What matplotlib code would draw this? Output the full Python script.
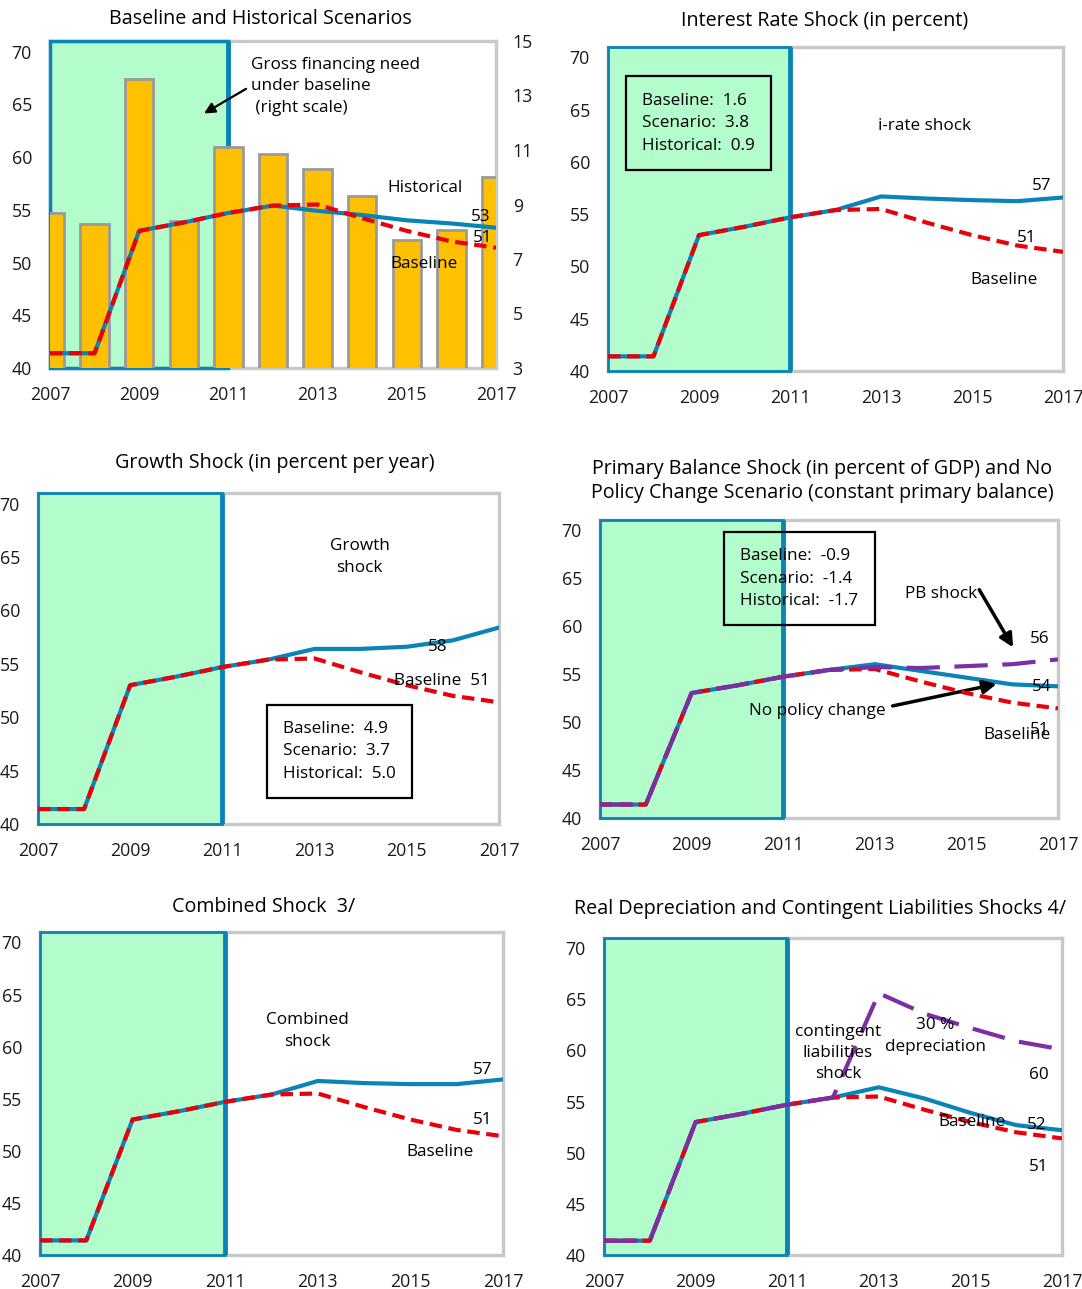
import matplotlib
matplotlib.use("Agg")
import matplotlib.pyplot as plt
from matplotlib.patches import Rectangle

plt.rcParams['font.family'] = ['Open Sans', 'DejaVu Sans']

# data
years = list(range(2007, 2018))
baseline = [41.4, 41.4, 53.0, 53.8, 54.7, 55.4, 55.5, 54.2, 53.0, 52.0, 51.4]
historical = [41.4, 41.4, 53.0, 53.8, 54.7, 55.4, 54.9, 54.5, 54.0, 53.7, 53.3]
gross_financing = [8.7, 8.3, 13.6, 8.4, 11.1, 10.85, 10.3, 9.3, 7.7, 8.05, 10.0]

past = baseline[:6]
irate_shock = past + [56.7, 56.5, 56.35, 56.25, 56.6]
growth_shock = past + [56.4, 56.4, 56.6, 57.2, 58.4]
no_policy_change = past + [56.0, 55.3, 54.6, 53.9, 53.7]
pb_shock = past + [55.7, 55.6, 55.8, 56.0, 56.5]
combined_shock = past + [56.7, 56.5, 56.4, 56.4, 56.85]
contingent_shock = past + [56.4, 55.3, 53.9, 52.7, 52.2]
depreciation = past + [65.6, 63.6, 62.2, 60.9, 60.1]

xticks = [2007, 2009, 2011, 2013, 2015, 2017]
yticks = [40, 45, 50, 55, 60, 65, 70]

BLUE = '#0a84b6'
RED = '#e8000b'
PURPLE = '#7b2fa3'
GREEN = '#b3fdcc'
FRAME = '#c8c8c8'
FS = 12.3
TICK_FS = 12.8

W, H = 1082, 1289
fig = plt.figure(figsize=(W / 100, H / 100), dpi=100)


def box(x0, y0, x1, y1):
    # pixel box -> figure fraction
    return [x0 / W, 1 - y1 / H, (x1 - x0) / W, (y1 - y0) / H]


def frame(ax):
    ax.tick_params(length=0, labelsize=TICK_FS, colors='#1a1a1a')
    ax.tick_params(axis='x', pad=13)
    for s in ax.spines.values():
        s.set_color(FRAME)
        s.set_linewidth(2.4)
        s.set_zorder(1)


def style(ax):
    ax.set_xlim(2007, 2017)
    ax.set_ylim(40, 71)
    ax.set_xticks(xticks)
    ax.set_yticks(yticks)
    frame(ax)
    ax.tick_params(axis='y', pad=13)
    ax.axvspan(2007, 2011, color=GREEN, zorder=0.5, lw=0)
    ax.add_patch(Rectangle((2007, 40), 4, 31, fill=False, ec=BLUE, lw=2,
                           zorder=1.5, clip_on=False))
    ax.plot([2011, 2011], [40, 71], color=BLUE, lw=3.5, zorder=1.6,
            solid_capstyle='butt')


def base_line(ax):
    ax.plot(years, baseline, color=RED, lw=3, ls=(0, (3, 1.6)), zorder=4)


def title(x, y, s):
    fig.text(x / W, 1 - y / H, s, ha='center', va='center', fontsize=14.2,
             linespacing=1.3)


def label(ax, x, y, s, ha='center'):
    ax.text(x, y, s, ha=ha, va='center', fontsize=FS, zorder=6, linespacing=1.45)


def stats(ax, x, y, s):
    ax.text(x, y, s, ha='left', va='center', fontsize=FS, zorder=6,
            linespacing=1.55,
            bbox=dict(boxstyle='square,pad=0.95', fc='none', ec='black', lw=1.6))


# --- panel 1: baseline and historical
ax = fig.add_axes(box(50, 41, 496, 368))
ax.set_xlim(2007, 2017)
ax.set_ylim(3, 15)
ax.axvspan(2007, 2011, color=GREEN, zorder=0.5, lw=0)
ax.add_patch(Rectangle((2007, 3), 4, 12, fill=False, ec=BLUE, lw=2.5,
                       zorder=1.5, clip_on=False))
ax.plot([2011, 2011], [3, 15], color=BLUE, lw=3.5, zorder=1.6, solid_capstyle='butt')
ax.bar(years, gross_financing, width=0.64, color='#ffc000', edgecolor='#9a9a9a',
       lw=2, zorder=2)
ax.set_xticks(xticks)
frame(ax)
ax2 = ax.twinx()
ax.yaxis.tick_right()
ax.set_yticks([3, 5, 7, 9, 11, 13, 15])
ax.tick_params(axis='y', pad=12)
ax2.yaxis.tick_left()
ax2.set_ylim(40, 71)
ax2.set_yticks(yticks)
ax2.tick_params(length=0, labelsize=TICK_FS, colors='#1a1a1a', pad=13)
for s in ax2.spines.values():
    s.set_visible(False)
ax2.plot(years, historical, color=BLUE, lw=3, zorder=3)
base_line(ax2)
label(ax2, 2011.5, 66.7, "Gross financing need\nunder baseline\n (right scale)", ha='left')
ax2.annotate("", xy=(2010.4, 64.0), xytext=(2011.45, 66.6),
             arrowprops=dict(arrowstyle='-|>', color='black', lw=1.6, mutation_scale=16))
label(ax2, 2015.4, 57.1, "Historical")
label(ax2, 2016.66, 54.3, "53")
label(ax2, 2016.69, 52.3, "51")
label(ax2, 2015.39, 49.9, "Baseline")
title(260, 19, "Baseline and Historical Scenarios")

# --- panel 2: interest rate shock
ax = fig.add_axes(box(608, 47, 1063, 371))
style(ax)
ax.plot(years, irate_shock, color=BLUE, lw=3, zorder=3)
base_line(ax)
stats(ax, 2007.75, 63.7, "Baseline:  1.6\nScenario:  3.8\nHistorical:  0.9")
label(ax, 2013.95, 63.4, "i-rate shock")
label(ax, 2016.54, 57.7, "57")
label(ax, 2016.2, 52.75, "51")
label(ax, 2015.7, 48.7, "Baseline")
title(825, 21, "Interest Rate Shock (in percent)")

# --- panel 3: growth shock
ax = fig.add_axes(box(38, 493, 499, 824))
style(ax)
ax.plot(years, growth_shock, color=BLUE, lw=3, zorder=3)
base_line(ax)
label(ax, 2013.98, 65.0, "Growth\nshock")
label(ax, 2015.68, 56.55, "58")
label(ax, 2014.72, 53.36, "Baseline  51", ha='left')
stats(ax, 2012.31, 46.8, "Baseline:  4.9\nScenario:  3.7\nHistorical:  5.0")
title(275, 463, "Growth Shock (in percent per year)")

# --- panel 4: primary balance shock and no policy change
ax = fig.add_axes(box(600, 520, 1058, 818))
style(ax)
ax.plot(years, no_policy_change, color=BLUE, lw=3, zorder=3)
base_line(ax)
ax.plot(years, pb_shock, color=PURPLE, lw=3, ls=(0, (8, 3.5)), zorder=5)
stats(ax, 2010.06, 64.9, "Baseline:  -0.9\nScenario:  -1.4\nHistorical:  -1.7")
label(ax, 2014.45, 63.3, "PB shock")
ax.annotate("", xy=(2016.05, 57.5), xytext=(2015.25, 64.0),
            arrowprops=dict(arrowstyle='-|>', color='black', lw=2.5, mutation_scale=20))
label(ax, 2016.6, 58.6, "56")
label(ax, 2016.65, 53.6, "54")
label(ax, 2011.74, 51.15, "No policy change")
ax.annotate("", xy=(2015.72, 54.0), xytext=(2013.33, 51.6),
            arrowprops=dict(arrowstyle='-|>', color='black', lw=2.5, mutation_scale=20))
label(ax, 2016.6, 49.2, "51")
label(ax, 2016.1, 48.65, "Baseline")
title(822, 481, "Primary Balance Shock (in percent of GDP) and No\n"
      "Policy Change Scenario (constant primary balance)")

# --- panel 5: combined shock
ax = fig.add_axes(box(40, 932, 503, 1255))
style(ax)
ax.plot(years, combined_shock, color=BLUE, lw=3, zorder=3)
base_line(ax)
label(ax, 2012.77, 61.5, "Combined\nshock")
label(ax, 2016.57, 57.8, "57")
label(ax, 2016.57, 53.0, "51")
label(ax, 2015.64, 49.9, "Baseline")
title(264, 907, "Combined Shock  3/")

# --- panel 6: real depreciation and contingent liabilities
ax = fig.add_axes(box(604, 938, 1062, 1255))
style(ax)
ax.plot(years, contingent_shock, color=BLUE, lw=3, zorder=3)
base_line(ax)
ax.plot(years, depreciation, color=PURPLE, lw=3, ls=(0, (8, 3.5)), zorder=5)
label(ax, 2012.11, 59.75, "contingent\nliabilities\nshock")
label(ax, 2014.23, 61.4, "30 %\ndepreciation")
label(ax, 2016.5, 57.6, "60")
label(ax, 2016.45, 52.7, "52")
label(ax, 2015.03, 53.0, "Baseline")
label(ax, 2016.48, 48.6, "51")
title(820, 909, "Real Depreciation and Contingent Liabilities Shocks 4/")

fig.savefig("out.png", dpi=100)
